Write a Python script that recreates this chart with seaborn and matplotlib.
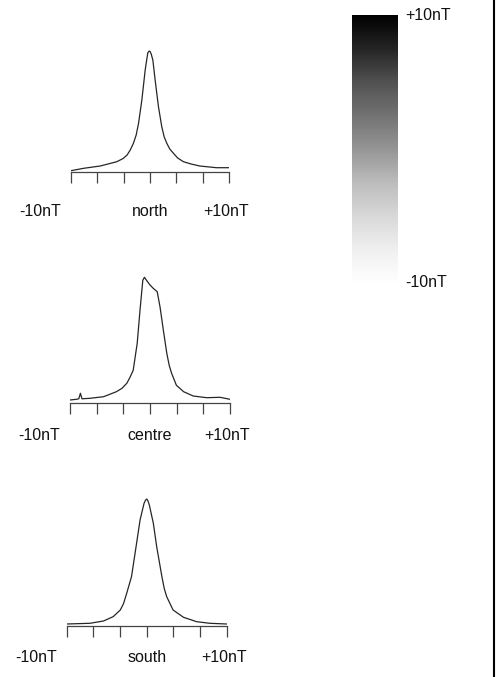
import numpy as np
import pandas as pd
import seaborn as sns
import matplotlib.pyplot as plt
import matplotlib as mpl
from matplotlib.lines import Line2D

sns.set_style("white")
plt.rcParams['font.family'] = ['Liberation Sans', 'DejaVu Sans']

# field values (nT) and curve heights
north_x = [-10.0, -8.4, -6.3, -4.2, -3.4, -2.9, -2.5, -2.1, -1.75, -1.45, -1.03, -0.61,
           -0.4, -0.27, -0.1, 0.02, 0.15, 0.36, 0.65, 1.07, 1.49, 1.8, 2.13, 2.5, 2.97,
           3.5, 4.23, 5.2, 6.3, 8.4, 10.0]
north_y = [1.3, 3.7, 6.0, 10.3, 13.5, 17.0, 22.0, 28.7, 37.0, 48.7, 72.0, 102.0,
           113.0, 119.3, 121.0, 120.3, 118.0, 112.0, 92.0, 65.3, 45.3, 35.0, 28.7, 23.0, 18.7,
           14.0, 10.3, 8.0, 6.0, 4.3, 4.3]

centre_x = [-10.0, -9.2, -8.9, -8.7, -8.5, -7.5, -5.8, -4.2, -3.5, -2.9, -2.5, -2.1, -1.6,
            -1.25, -0.9, -0.7, -0.4, 0.0, 0.4, 0.9, 1.25, 1.67, 2.1, 2.4, 2.7, 3.3,
            4.2, 5.4, 7.1, 8.75, 10.0]
centre_y = [3.3, 4.0, 4.5, 10.0, 4.5, 5.0, 6.6, 11.6, 15.0, 20.0, 26.0, 33.0, 60.0,
            93.0, 123.0, 126.0, 122.6, 118.3, 115.0, 111.6, 96.6, 73.0, 50.0, 38.0, 30.0, 18.0,
            11.6, 7.3, 5.6, 6.0, 4.0]

south_x = [-10.0, -7.1, -5.4, -4.2, -3.3, -2.9, -2.5, -1.9, -1.33, -0.83, -0.33, -0.15, 0.0,
           0.15, 0.33, 0.83, 1.25, 1.9, 2.2, 2.5, 3.3, 4.6, 6.25, 7.9, 10.0]
south_y = [1.7, 2.4, 4.7, 9.0, 15.7, 22.0, 32.4, 49.0, 79.0, 105.7, 122.4, 125.5, 126.7,
           125.0, 120.7, 102.4, 79.0, 49.0, 37.0, 29.0, 15.7, 8.4, 4.0, 2.4, 1.7]

panel_names = ["north", "centre", "south"]
tick_vals = [-10, -6.667, -3.333, 0, 3.333, 6.667, 10]

W, H = 503, 677
fig = plt.figure(figsize=(W / 100, H / 100), dpi=100)

def px_axes(x0, x1, ybot, ytop):
    return fig.add_axes([x0 / W, 1 - ybot / H, (x1 - x0) / W, (ybot - ytop) / H])

def px_text(x, y, s, **kw):
    fig.text(x / W, 1 - y / H, s, fontsize=11.5, color="#111111", va="center", **kw)

# (x left, x right, axis y, top y, label y)
panels = [
    (north_x, north_y, 71, 229, 172, 40, 211),
    (centre_x, centre_y, 70, 230, 403.3, 260, 435),
    (south_x, south_y, 66.7, 226.7, 625.7, 480, 657),
]

for name, (xs, ys, x0, x1, yb, yt, ly) in zip(panel_names, panels):
    ax = px_axes(x0, x1, yb, yt)
    df = pd.DataFrame({"nT": xs, "h": ys})
    sns.lineplot(data=df, x="nT", y="h", ax=ax, color="#262626", linewidth=0.9)
    ax.set_xlim(-10, 10)
    ax.set_ylim(0, yb - yt)
    for s in ["left", "top", "right"]:
        ax.spines[s].set_visible(False)
    ax.spines["bottom"].set_color("#444444")
    ax.spines["bottom"].set_linewidth(0.9)
    ax.set_xticks(tick_vals)
    ax.set_xticklabels([])
    ax.set_yticks([])
    ax.tick_params(axis="x", bottom=True, direction="out", length=8, width=0.9,
                   color="#444444")
    ax.set_xlabel("")
    ax.set_ylabel("")
    ax.patch.set_alpha(0)
    mid = (x0 + x1) / 2
    px_text(x0 - 31, ly, "-10nT", ha="center")
    px_text(mid, ly, name, ha="center")
    px_text(x1 - 3, ly, "+10nT", ha="center")

# grey scale bar
cax = px_axes(352, 398, 285, 15)
sm = mpl.cm.ScalarMappable(norm=mpl.colors.Normalize(-10, 10), cmap="Greys")
cb = fig.colorbar(sm, cax=cax)
cb.outline.set_visible(False)
cax.set_yticks([])
px_text(405, 15, "+10nT", ha="left")
px_text(405, 283, "-10nT", ha="left")

# frame line on the right
fig.add_artist(Line2D([494 / W, 494 / W], [0, 1], color="black", linewidth=1.5,
                      transform=fig.transFigure))

fig.savefig("out.png", dpi=100)
